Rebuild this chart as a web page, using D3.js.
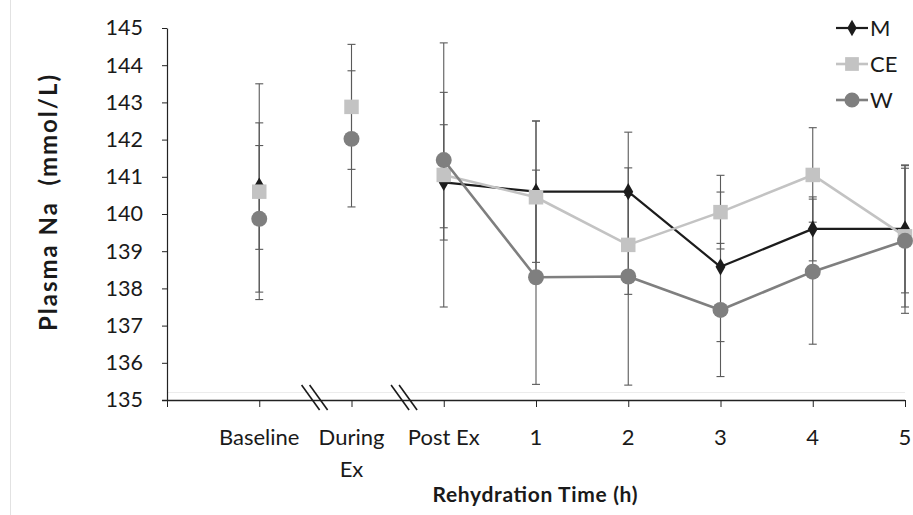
<!DOCTYPE html>
<html>
<head>
<meta charset="utf-8">
<script src="https://cdn.jsdelivr.net/npm/d3@7"></script>
<style>
  html, body { margin: 0; padding: 0; background: #ffffff; }
  svg { display: block; }
  text { font-family: Lato, "Open Sans", "Liberation Sans", sans-serif; fill: #1a1a1a; }
</style>
</head>
<body>
<svg id="chart" width="913" height="515"></svg>
<script>
// Time points (an empty slot sits before Baseline on the category axis)
const categories = ["Baseline", "During Ex", "Post Ex", "1", "2", "3", "4", "5"];
const yTicks = [135, 136, 137, 138, 139, 140, 141, 142, 143, 144, 145];

// Plasma sodium (mmol/L), mean and error for each group
const seriesNames = ["M", "CE", "W"];
const mValues  = [140.75, null, 140.85, 140.60, 140.60, 138.58, 139.60, 139.60];
const mErrors  = [1.70,   null, 1.55,   1.90,   1.60,   2.01,   0.86,   1.72];
const ceValues = [140.60, 142.88, 141.05, 140.45, 139.17, 140.05, 141.05, 139.40];
const ceErrors = [2.90,   1.68,   3.55,   2.05,   1.33,   0.99,   1.27,   1.90];
const wValues  = [139.87, 142.02, 141.45, 138.30, 138.32, 137.42, 138.45, 139.28];
const wErrors  = [1.97,   1.83,   1.82,   2.88,   2.92,   1.79,   1.95,   1.95];

// Lines are only drawn through the rehydration period
const lineStart = "Post Ex";

const svg = d3.select("#chart");
const W = 913, H = 515;
const plot = { left: 167, right: 905, top: 28, bottom: 400 };

const x = d3.scalePoint().domain(["", ...categories]).range([plot.left, plot.right]);
const y = d3.scaleLinear().domain([135, 145]).range([plot.bottom, plot.top]);

const styles = {
  M:  { color: "#1c1c1c", shape: "diamond", size: 85,  width: 2.2 },
  CE: { color: "#c3c3c3", shape: "square",  size: 210, width: 2.6 },
  W:  { color: "#7f7f7f", shape: "circle",  size: 200, width: 2.6 }
};
const symbolType = { diamond: d3.symbolDiamond, square: d3.symbolSquare, circle: d3.symbolCircle };

const series = [
  { name: "M",  values: mValues,  errors: mErrors },
  { name: "CE", values: ceValues, errors: ceErrors },
  { name: "W",  values: wValues,  errors: wErrors }
].map(s => ({
  name: s.name,
  points: categories.map((c, i) => ({ cat: c, i, v: s.values[i], e: s.errors[i] }))
    .filter(p => p.v != null)
}));

// page frame line on the left
svg.append("line").attr("x1", 10.5).attr("x2", 10.5).attr("y1", 0).attr("y2", H)
  .attr("stroke", "#e2e2e2").attr("stroke-width", 1);

// faint rule just above the category axis
svg.append("line").attr("x1", plot.left).attr("x2", plot.right)
  .attr("y1", 392.5).attr("y2", 392.5).attr("stroke", "#ececec").attr("stroke-width", 1);

// Y axis
const yAxis = svg.append("g").attr("transform", `translate(${plot.left},0)`)
  .call(d3.axisLeft(y).tickValues(yTicks).tickFormat(d3.format("d"))
    .tickSize(5).tickSizeOuter(0).tickPadding(19));
yAxis.select(".domain").attr("stroke", "#222").attr("stroke-width", 1.2);
yAxis.selectAll(".tick line").attr("stroke", "#222");
yAxis.selectAll(".tick text").attr("font-size", 21.5).attr("fill", "#1a1a1a")
  .attr("font-family", "Lato, 'Open Sans', sans-serif");

// X axis
const xAxis = svg.append("g").attr("transform", `translate(0,${plot.bottom})`)
  .call(d3.axisBottom(x).tickSize(7).tickSizeOuter(0).tickFormat(""));
xAxis.select(".domain").attr("stroke", "#222").attr("stroke-width", 1.4)
  .attr("d", `M${plot.left - 5},0.5H${plot.right}`);
xAxis.selectAll(".tick line").attr("stroke", "#222");

// category labels (wrapped onto two lines where needed)
const labelLines = { "During Ex": ["During", "Ex"] };
categories.forEach(c => {
  const lines = labelLines[c] || [c];
  const t = svg.append("text").attr("x", x(c)).attr("y", 445)
    .attr("text-anchor", "middle").attr("font-size", 22);
  lines.forEach((ln, k) => t.append("tspan").attr("x", x(c)).attr("dy", k === 0 ? 0 : 32).text(ln));
});

// axis breaks between the separated phases
function drawBreak(cx) {
  const g = svg.append("g").attr("transform", `translate(${cx},398)`);
  [-4, 4].forEach(dx => {
    g.append("line").attr("x1", dx - 9).attr("y1", -13).attr("x2", dx + 9).attr("y2", 12)
      .attr("stroke", "#1a1a1a").attr("stroke-width", 1.6);
  });
}
const step = x.step();
drawBreak(x("Baseline") + step * 0.6);
drawBreak(x("During Ex") + step * 0.57);

// axis titles
svg.append("text").attr("transform", `translate(57,${(plot.top + plot.bottom) / 2 - 11}) rotate(-90)`)
  .attr("text-anchor", "middle").attr("font-size", 24).attr("font-weight", "bold")
  .attr("xml:space", "preserve")
  .attr("textLength", 256).attr("lengthAdjust", "spacing")
  .text("Plasma Na  (mmol/L)");
svg.append("text").attr("x", 535).attr("y", 502).attr("text-anchor", "middle")
  .attr("font-size", 21).attr("font-weight", "bold")
  .attr("textLength", 205).attr("lengthAdjust", "spacing")
  .text("Rehydration Time (h)");

// error bars
const cap = 4;
const errG = svg.append("g");
series.forEach(s => {
  s.points.forEach(p => {
    const cx = x(p.cat);
    const g = errG.append("g").attr("stroke", "#5a5a5a").attr("stroke-width", 1.1);
    g.append("line").attr("x1", cx).attr("x2", cx).attr("y1", y(p.v + p.e)).attr("y2", y(p.v - p.e));
    g.append("line").attr("x1", cx - cap).attr("x2", cx + cap).attr("y1", y(p.v + p.e)).attr("y2", y(p.v + p.e));
    g.append("line").attr("x1", cx - cap).attr("x2", cx + cap).attr("y1", y(p.v - p.e)).attr("y2", y(p.v - p.e));
  });
});

// lines and markers, drawn in series order
const line = d3.line().x(p => x(p.cat)).y(p => y(p.v));
const startIdx = categories.indexOf(lineStart);
series.forEach(s => {
  const st = styles[s.name];
  svg.append("path").datum(s.points.filter(p => p.i >= startIdx))
    .attr("d", line).attr("fill", "none").attr("stroke", st.color)
    .attr("stroke-width", st.width).attr("stroke-linejoin", "round");
  svg.append("g").selectAll("path").data(s.points).join("path")
    .attr("transform", p => `translate(${x(p.cat)},${y(p.v)})`)
    .attr("d", d3.symbol(symbolType[st.shape], st.size))
    .attr("fill", st.color);
});

// legend
const legend = svg.append("g");
seriesNames.forEach((n, k) => {
  const st = styles[n];
  const ly = 28 + k * 36;
  legend.append("line").attr("x1", 836).attr("x2", 868).attr("y1", ly).attr("y2", ly)
    .attr("stroke", st.color).attr("stroke-width", st.width);
  legend.append("path").attr("transform", `translate(852,${ly})`)
    .attr("d", d3.symbol(symbolType[st.shape], st.size * 0.9)).attr("fill", st.color);
  legend.append("text").attr("x", 870).attr("y", ly + 8).attr("font-size", 22).text(n);
});
</script>
</body>
</html>
